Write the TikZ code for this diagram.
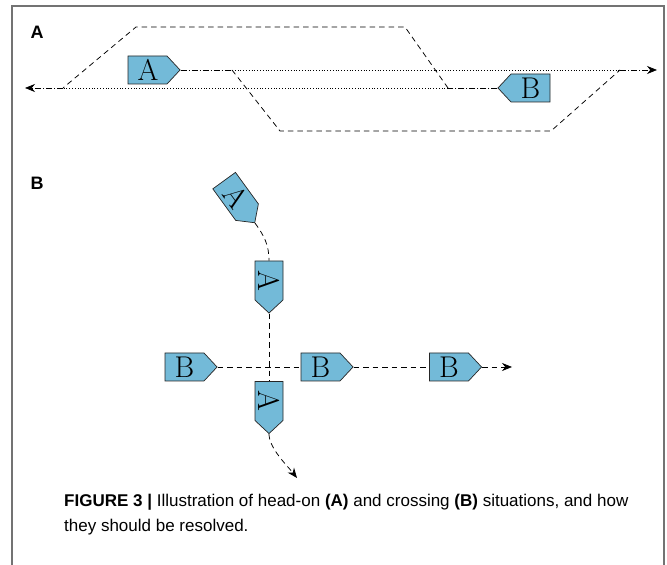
\documentclass[tikz,border=0pt]{standalone}
\usepackage{fontspec}
\newfontfamily\capfont{Liberation Sans}
\usetikzlibrary{shapes.symbols,arrows.meta}
\definecolor{shipblue}{RGB}{115,186,216}
\definecolor{framegray}{RGB}{115,115,115}
\begin{document}
\begin{tikzpicture}[x=1pt,y=1pt,
  ship/.style={draw=black!85, fill=shipblue, line width=0.7pt, signal, signal from=nowhere,
    signal pointer angle=94, text width=20pt, align=center, inner xsep=9.5pt, inner ysep=0pt,
    minimum height=28pt, font=\fontsize{30}{30}\selectfont},
  shipE/.style={ship, signal to=east},
  shipW/.style={ship, signal to=west},
  track/.style={line width=0.75pt},
  dashdot/.style={track, dash pattern=on 6pt off 2pt on 1pt off 2pt},
  dotline/.style={track, dash pattern=on 0.8pt off 2pt},
  dashline/.style={track, dash pattern=on 5.5pt off 4pt},
  tip/.style={-{Stealth[length=10pt,width=8pt]}},
  panel/.style={font=\capfont\bfseries\fontsize{18}{18}\selectfont, inner sep=0pt},
  captext/.style={font=\capfont\fontsize{17}{17}\selectfont, inner sep=0pt, anchor=base west},
]
\useasboundingbox (0,0) rectangle (667,565);
\draw[framegray, line width=1.5pt] (12,-5) -- (12,559) -- (664,559) -- (664,-5);

% ---------- panel A ----------
\node[panel] (labA) at (37,533) {A};
\node[shipE] (shipA) at (147.5,495) {A};
\node[shipW] (shipB) at (530.5,477) {B};

\coordinate (aTurn) at (232,495);
\coordinate (aLow1) at (280,434);
\coordinate (aLow2) at (551,434);
\coordinate (aBack) at (620,495);
\coordinate (aEnd)  at (657,495);
\coordinate (bTurn) at (448,477);
\coordinate (bHigh1) at (405,538);
\coordinate (bHigh2) at (136,538);
\coordinate (bBack) at (63,477);
\coordinate (bEnd)  at (25,477);

\draw[dotline] (aTurn) -- (aBack);
\draw[dotline] (bTurn) -- (bBack);
\draw[dashdot] (shipA.east) -- (aTurn);
\draw[dashline] (aTurn) -- (aLow1) -- (aLow2) -- (aBack);
\draw[dashdot, tip] (aBack) -- (aEnd);
\draw[dashdot] (shipB.west) -- (bTurn);
\draw[dashline] (bTurn) -- (bHigh1) -- (bHigh2) -- (bBack);
\draw[dashdot, tip] (bBack) -- (bEnd);

% ---------- panel B ----------
\node[panel] (labB) at (37,382) {B};
\node[shipE, rotate=-54] (a1) at (235.6,368.6) {A};
\node[shipE, rotate=-90] (a2) at (269,284.5) {A};
\node[shipE, rotate=-90] (a3) at (269,164) {A};
\node[shipE] (b1) at (184.5,198) {B};
\node[shipE] (b2) at (320.5,198) {B};
\node[shipE] (b3) at (449,198) {B};
\coordinate (crossEnd) at (297,87);
\coordinate (rowEnd) at (512,198);

\draw[dashline] (a1.east) to[out=-54,in=90] (a2.west);
\draw[dashline] (a2.east) -- (a3.west);
\draw[dashline, tip] (a3.east) to[out=-90,in=128,looseness=0.7] (crossEnd);
\draw[dashline] (b1.east) -- (b2.west);
\draw[dashline] (b2.east) -- (b3.west);
\draw[dashline, tip] (b3.east) -- (rowEnd);

% ---------- caption ----------
\node[captext] (cap1) at (64,58) {\textbf{FIGURE 3 |} Illustration of head-on \textbf{(A)} and crossing \textbf{(B)} situations, and how};
\node[captext] (cap2) at (64,33) {they should be resolved.};
\end{tikzpicture}
\end{document}
